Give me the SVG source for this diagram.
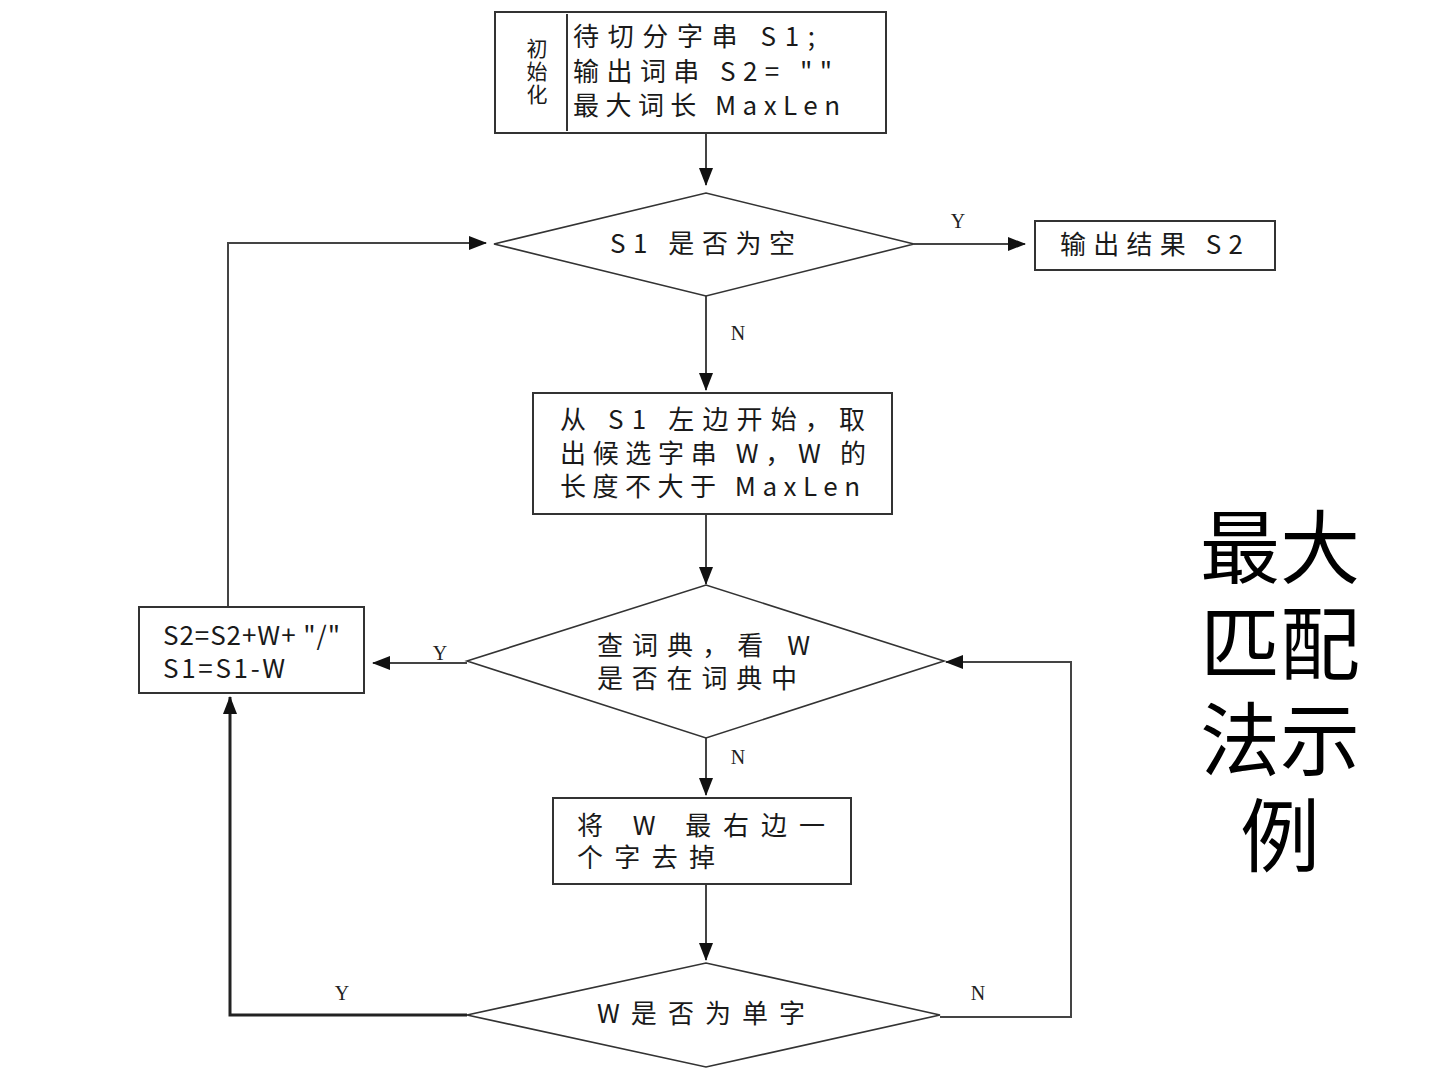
<svg xmlns="http://www.w3.org/2000/svg" width="1440" height="1080" viewBox="0 0 1440 1080">
<style>
.box{fill:#fff;stroke:#333;stroke-width:2}
.dia{fill:#fff;stroke:#333;stroke-width:1.6}
.t{font-family:"Noto Sans CJK SC","DejaVu Sans",sans-serif;font-size:26px;fill:#1a1a1a}
.v{font-family:"Noto Sans CJK SC",sans-serif;font-size:21px;fill:#1a1a1a;writing-mode:vertical-rl;letter-spacing:2px}
.lbl{font-family:"Liberation Serif","Noto Sans CJK SC",serif;font-size:20px;fill:#222}
.ln{fill:none;stroke:#444;stroke-width:2}
.title{font-family:"Noto Sans CJK SC",sans-serif;font-size:80px;fill:#000}
</style>
<defs>
<marker id="ah" markerWidth="18" markerHeight="14" refX="17" refY="7" orient="auto" markerUnits="userSpaceOnUse">
<path d="M0,0 L18,7 L0,14 Z" fill="#111"/>
</marker>
</defs>
<rect width="1440" height="1080" fill="#fff"/>

<g id="connectors">
<line class="ln" x1="706" y1="133" x2="706" y2="185" marker-end="url(#ah)"/>
<line class="ln" x1="914" y1="244" x2="1025" y2="244" marker-end="url(#ah)"/>
<polyline class="ln" points="228,607 228,243 486,243" marker-end="url(#ah)"/>
<line class="ln" x1="706" y1="296" x2="706" y2="390" marker-end="url(#ah)"/>
<line class="ln" x1="706" y1="514" x2="706" y2="584" marker-end="url(#ah)"/>
<line class="ln" x1="467" y1="663" x2="373" y2="663" marker-end="url(#ah)"/>
<line class="ln" x1="706" y1="738" x2="706" y2="795" marker-end="url(#ah)"/>
<line class="ln" x1="706" y1="884" x2="706" y2="960" marker-end="url(#ah)"/>
<polyline class="ln" style="stroke-width:3;stroke:#222" points="467,1015 230,1015 230,697" marker-end="url(#ah)"/>
<polyline class="ln" points="940,1017 1071,1017 1071,662 946,662" marker-end="url(#ah)"/>
<text class="lbl" x="958" y="228" text-anchor="middle">Y</text>
<text class="lbl" x="738" y="340" text-anchor="middle">N</text>
<text class="lbl" x="440" y="660" text-anchor="middle">Y</text>
<text class="lbl" x="738" y="764" text-anchor="middle">N</text>
<text class="lbl" x="342" y="1000" text-anchor="middle">Y</text>
<text class="lbl" x="978" y="1000" text-anchor="middle">N</text>
</g>

<g id="init">
<rect class="box" x="495" y="12" width="391" height="121"/>
<line x1="567" y1="14" x2="567" y2="131" stroke="#333" stroke-width="2"/>
<text class="v" x="537" y="38">初始化</text>
<text class="t" x="573" y="46" textLength="242" lengthAdjust="spacing">待切分字串 S1;</text>
<text class="t" x="573" y="81" textLength="259" lengthAdjust="spacing">输出词串 S2= ""</text>
<text class="t" x="573" y="115" textLength="267" lengthAdjust="spacing">最大词长 MaxLen</text>
</g>

<g id="d1">
<polygon class="dia" points="494,244 706,193 914,244 706,296"/>
<text class="t" x="610" y="253" textLength="185" lengthAdjust="spacing">S1 是否为空</text>
</g>

<g id="out">
<rect class="box" x="1035" y="221" width="240" height="49"/>
<text class="t" x="1060" y="254" textLength="183" lengthAdjust="spacing">输出结果 S2</text>
</g>

<g id="take">
<rect class="box" x="533" y="393" width="359" height="121"/>
<text class="t" x="560" y="429" textLength="305" lengthAdjust="spacing">从 S1 左边开始，取</text>
<text class="t" x="560" y="463" textLength="306" lengthAdjust="spacing">出候选字串 W，W 的</text>
<text class="t" x="560" y="496" textLength="300" lengthAdjust="spacing">长度不大于 MaxLen</text>
</g>

<g id="d2">
<polygon class="dia" points="467,661 706,585 944,661 706,738"/>
<text class="t" x="597" y="655" textLength="213" lengthAdjust="spacing">查词典，看 W</text>
<text class="t" x="597" y="688" textLength="200" lengthAdjust="spacing">是否在词典中</text>
</g>

<g id="s2box">
<rect class="box" x="139" y="607" width="225" height="86"/>
<text class="t" x="163" y="645" textLength="177" lengthAdjust="spacing">S2=S2+W+ "/"</text>
<text class="t" x="163" y="678" textLength="122" lengthAdjust="spacing">S1=S1-W</text>
</g>

<g id="cut">
<rect class="box" x="553" y="798" width="298" height="86"/>
<text class="t" x="577" y="835" textLength="248" lengthAdjust="spacing">将 W 最右边一</text>
<text class="t" x="577" y="867" textLength="138" lengthAdjust="spacing">个字去掉</text>
</g>

<g id="d3">
<polygon class="dia" points="467,1015 706,963 940,1015 706,1067"/>
<text class="t" x="597" y="1023" textLength="208" lengthAdjust="spacing">W是否为单字</text>
</g>

<g id="title">
<text class="title" x="1280" y="577" text-anchor="middle">最大</text>
<text class="title" x="1280" y="673" text-anchor="middle">匹配</text>
<text class="title" x="1280" y="769" text-anchor="middle">法示</text>
<text class="title" x="1280" y="865" text-anchor="middle">例</text>
</g>
</svg>
